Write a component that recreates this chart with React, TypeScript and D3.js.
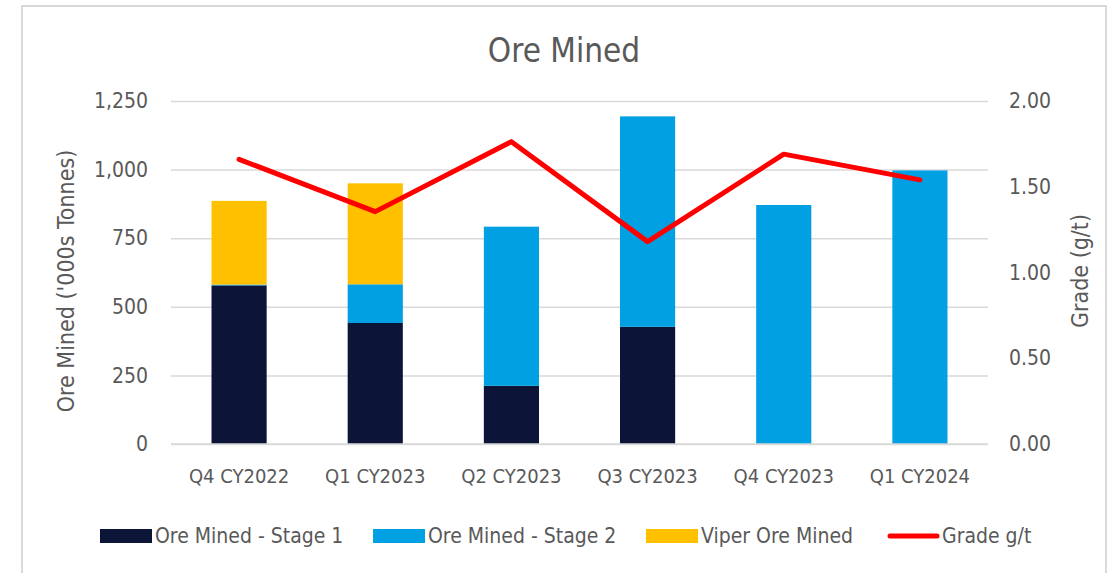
import React, { useEffect, useRef } from "react";
import { select, scaleBand, scaleLinear, axisLeft, axisRight, axisBottom, line, stack, format } from "d3";

const categories = ["Q4 CY2022", "Q1 CY2023", "Q2 CY2023", "Q3 CY2023", "Q4 CY2023", "Q1 CY2024"];
const stage1 = [578, 441, 212, 427, 0, 0];
const stage2 = [3, 141, 580, 767, 871, 997];
const viper = [305, 368, 0, 0, 0, 0];
const grade = [1.66, 1.355, 1.763, 1.18, 1.69, 1.54];
const leftTicks = [0, 250, 500, 750, 1000, 1250];
const rightTicks = [0, 0.5, 1, 1.5, 2];

const seriesNames = ["Ore Mined - Stage 1", "Ore Mined - Stage 2", "Viper Ore Mined"];
const colors = ["#0c1538", "#00a0e3", "#ffc000"];
const lineColor = "#ff0000";
const textColor = "#595959";
const FONT = "'Liberation Sans Narrow', 'DejaVu Sans Condensed', 'Liberation Sans', sans-serif";

const W = 1109;
const H = 573;
const plot = { left: 171, right: 988, top: 101, bottom: 444 };

const App = () => {
  const ref = useRef<SVGSVGElement>(null);

  useEffect(() => {
    const svg = select(ref.current);
    svg.selectAll("*").remove();

    // frame
    svg.append("rect").attr("x", 22).attr("y", 6).attr("width", 1084).attr("height", 600)
      .attr("fill", "white").attr("stroke", "#d9d9d9").attr("stroke-width", 2);

    const x = scaleBand().domain(categories).range([plot.left, plot.right]);
    const yL = scaleLinear().domain([0, 1250]).range([plot.bottom, plot.top]);
    const yR = scaleLinear().domain([0, 2]).range([plot.bottom, plot.top]);

    // grid
    const grid = svg.append("g").attr("transform", `translate(${plot.left},0)`)
      .call(axisLeft(yL).tickValues(leftTicks).tickSize(-(plot.right - plot.left)).tickFormat(() => ""));
    grid.select(".domain").remove();
    grid.selectAll("line").attr("stroke", "#d9d9d9").attr("stroke-width", 1.5);

    // left axis labels
    const gl = svg.append("g").attr("transform", `translate(${plot.left},0)`)
      .call(axisLeft(yL).tickValues(leftTicks).tickSize(0).tickPadding(23).tickFormat(format(",")));
    gl.select(".domain").remove();
    gl.selectAll("text").attr("fill", textColor).attr("font-size", 21).attr("font-family", FONT);

    const gr = svg.append("g").attr("transform", `translate(${plot.right},0)`)
      .call(axisRight(yR).tickValues(rightTicks).tickSize(0).tickPadding(21).tickFormat(format(".2f")));
    gr.select(".domain").remove();
    gr.selectAll("text").attr("fill", textColor).attr("font-size", 21).attr("font-family", FONT);

    const gb = svg.append("g").attr("transform", `translate(0,${plot.bottom})`)
      .call(axisBottom(x).tickSize(0).tickPadding(25));
    gb.select(".domain").remove();
    gb.selectAll("text").attr("fill", textColor).attr("font-size", 20).attr("font-family", FONT);

    // bars
    const rows = categories.map((c, i) => ({ cat: c, s1: stage1[i], s2: stage2[i], v: viper[i] }));
    const stacked = stack<any>().keys(["s1", "s2", "v"])(rows);
    const barW = x.bandwidth() * 0.405;
    stacked.forEach((layer, li) => {
      svg.append("g").selectAll("rect").data(layer).join("rect")
        .attr("x", (d: any) => x(d.data.cat)! + (x.bandwidth() - barW) / 2)
        .attr("width", barW)
        .attr("y", (d) => yL(d[1]))
        .attr("height", (d) => yL(d[0]) - yL(d[1]))
        .attr("fill", colors[li]);
    });

    // axis line
    svg.append("line").attr("x1", plot.left).attr("x2", plot.right)
      .attr("y1", plot.bottom).attr("y2", plot.bottom).attr("stroke", "#d9d9d9").attr("stroke-width", 1.5);

    // grade line
    const gradeLine = line<number>()
      .x((_, i) => x(categories[i])! + x.bandwidth() / 2)
      .y((d) => yR(d));
    svg.append("path").datum(grade).attr("d", gradeLine).attr("fill", "none")
      .attr("stroke", lineColor).attr("stroke-width", 5).attr("stroke-linejoin", "round").attr("stroke-linecap", "round");

    // title
    svg.append("text").attr("x", 564).attr("y", 62).attr("text-anchor", "middle")
      .attr("font-size", 33).attr("fill", textColor).attr("font-family", FONT).text("Ore Mined");

    // axis titles
    svg.append("text").attr("transform", "translate(74,281) rotate(-90)").attr("text-anchor", "middle")
      .attr("font-size", 23).attr("fill", textColor).attr("font-family", FONT).text("Ore Mined ('000s Tonnes)");
    svg.append("text").attr("transform", "translate(1088,271) rotate(-90)").attr("text-anchor", "middle")
      .attr("font-size", 23).attr("fill", textColor).attr("font-family", FONT).text("Grade (g/t)");

    // legend
    const legendX = [100, 373, 646, 887];
    const lg = svg.append("g").attr("font-family", FONT).attr("font-size", 21).attr("fill", textColor);
    seriesNames.forEach((name, i) => {
      lg.append("rect").attr("x", legendX[i]).attr("y", 529).attr("width", 52).attr("height", 14).attr("fill", colors[i]);
      lg.append("text").attr("x", legendX[i] + 55).attr("y", 543).text(name);
    });
    lg.append("line").attr("x1", legendX[3] + 3).attr("x2", legendX[3] + 50).attr("y1", 536).attr("y2", 536)
      .attr("stroke", lineColor).attr("stroke-width", 5).attr("stroke-linecap", "round");
    lg.append("text").attr("x", legendX[3] + 55).attr("y", 543).text("Grade g/t");
  }, []);

  return (
    <svg ref={ref} width={W} height={H} style={{ position: "fixed", left: 0, top: 0, background: "white" }} />
  );
};

export default App;
